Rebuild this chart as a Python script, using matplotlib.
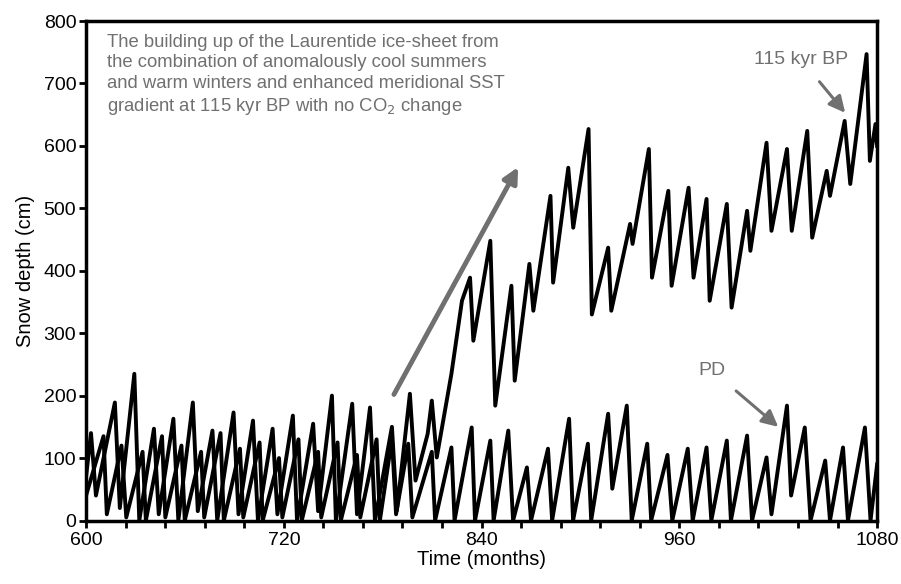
import matplotlib
matplotlib.use("Agg")
import matplotlib.pyplot as plt
from matplotlib.ticker import MultipleLocator

plt.rcParams['font.family'] = ['Liberation Sans', 'DejaVu Sans']

# turning points of the 115 kyr BP run (month, snow depth in cm)
kyr115_month = [600, 603, 606, 617.5, 620.5, 629.3, 632.3, 641.2, 644.1, 653, 656, 664.8,
                667.8, 676.7, 679.6, 689.5, 692.5, 701.3, 704.3, 713.2, 716.1, 725.5, 728,
                737.8, 740.8, 749.2, 751.6, 761.5, 764.4, 772.3, 775.3, 785.6, 788.6,
                796.5, 799.9, 807.3, 809.8, 812.8, 821.7, 828.1, 833, 835, 845.3, 848.3,
                858.1, 860.1, 869, 871.4, 881.8, 883.4, 892.6, 895.6, 904.9, 906.9,
                916.8, 918.7, 930.1, 931.6, 941.5, 943.4, 953.3, 955.3, 965.6, 968.6,
                976.5, 978.4, 988.8, 991.7, 1001.1, 1003.1, 1012.9, 1015.9, 1025.3,
                1028.2, 1037.6, 1040.6, 1049.4, 1051.4, 1060.3, 1063.7, 1073.6, 1075.6,
                1079, 1080]
kyr115_depth = [70, 140, 40, 189, 20, 235, 0, 147, 10, 163, 0, 189,
                15, 144, 0, 173, 10, 160, 0, 147, 10, 168, 0,
                155, 15, 200, 0, 187, 10, 181, 0, 150, 16,
                203, 64, 139, 192, 101, 235, 352, 389, 288, 448, 184,
                376, 224, 411, 336, 520, 381, 565, 469, 627, 330,
                437, 336, 475, 443, 595, 389, 528, 376, 533, 389,
                515, 352, 507, 341, 496, 432, 605, 464, 595,
                464, 624, 453, 560, 520, 640, 539, 747, 576,
                635, 600]

# turning points of the present-day run
pd_month = [600, 610.6, 612.6, 621.5, 624.4, 634.3, 636.3, 646.1, 648.1, 657.9, 659.9,
            669.8, 671.7, 681.6, 683.6, 693.4, 695.4, 705.3, 707.2, 717.1, 719.1,
            728.9, 730.9, 740.8, 742.7, 752.6, 754.6, 764.4, 766.4, 776.3, 778.3,
            785.6, 788.1, 795.5, 798, 809.8, 811.8, 821.7, 823.6, 834, 836, 845.3,
            847.3, 856.2, 859.1, 867.5, 870, 880.3, 882.8, 893.1, 895.5, 904.5, 906.5,
            916.8, 919.3, 928.1, 931.1, 940.5, 942.9, 952.8, 955.7, 965.1, 968.1,
            976.5, 979.4, 988.8, 991.3, 1001.1, 1004.1, 1012.9, 1015.9, 1025.3, 1027.8,
            1036.1, 1039.6, 1048.5, 1051.4, 1059.3, 1062.3, 1072.6, 1076, 1080]
pd_depth = [40, 135, 10, 120, 5, 110, 0, 135, 5, 120, 0,
            110, 5, 140, 0, 115, 5, 125, 0, 100, 5,
            130, 0, 110, 5, 125, 0, 105, 5, 130, 0,
            131, 10, 123, 5, 110, 0, 117, 0, 149, 0, 128,
            0, 144, 0, 85, 0, 115, 0, 163, 0, 123, 0,
            171, 51, 184, 0, 123, 0, 105, 0, 115, 0,
            117, 0, 128, 0, 136, 0, 101, 10, 184, 40,
            149, 0, 96, 0, 117, 0, 149, 0, 90]

note = ("The building up of the Laurentide ice-sheet from\n"
        "the combination of anomalously cool summers\n"
        "and warm winters and enhanced meridional SST\n"
        "gradient at 115 kyr BP with no CO$_2$ change")

GREY = '#707070'

fig = plt.figure(figsize=(9.01, 5.84), dpi=100)
ax = fig.add_axes([0.0955, 0.1087, 0.878, 0.8553])

ax.plot(pd_month, pd_depth, color='black', lw=2.8)
ax.plot(kyr115_month, kyr115_depth, color='black', lw=2.8)

ax.set_xlim(600, 1080)
ax.set_ylim(0, 800)
ax.xaxis.set_major_locator(MultipleLocator(120))
ax.xaxis.set_minor_locator(MultipleLocator(24))
ax.yaxis.set_major_locator(MultipleLocator(100))
ax.tick_params(which='both', direction='out', length=5, width=2, labelsize=14)
ax.tick_params(axis='x', pad=3)
ax.tick_params(axis='y', pad=2)
for s in ax.spines.values():
    s.set_linewidth(2.5)

ax.set_xlabel('Time (months)', fontsize=14.5, labelpad=1)
ax.set_ylabel('Snow depth (cm)', fontsize=14.5, labelpad=6)

ax.text(613, 780, note, color=GREY, fontsize=13.3, va='top', ha='left', linespacing=1.28)

ax.annotate('', xy=(863, 570), xytext=(786, 198),
            arrowprops=dict(arrowstyle='-|>,head_length=0.9,head_width=0.45',
                            color=GREY, lw=3.5))
ax.annotate('115 kyr BP', xy=(1060.6, 653), xytext=(1034, 738), color=GREY,
            fontsize=14, ha='center', va='center',
            arrowprops=dict(arrowstyle='-|>,head_length=0.7,head_width=0.35',
                            color=GREY, lw=2.2, shrinkA=10, shrinkB=0))
ax.annotate('PD', xy=(1020, 150), xytext=(980, 240), color=GREY,
            fontsize=14, ha='center', va='center',
            arrowprops=dict(arrowstyle='-|>,head_length=0.7,head_width=0.35',
                            color=GREY, lw=2.2, shrinkA=10, shrinkB=0))

fig.savefig('out.png', dpi=100)
